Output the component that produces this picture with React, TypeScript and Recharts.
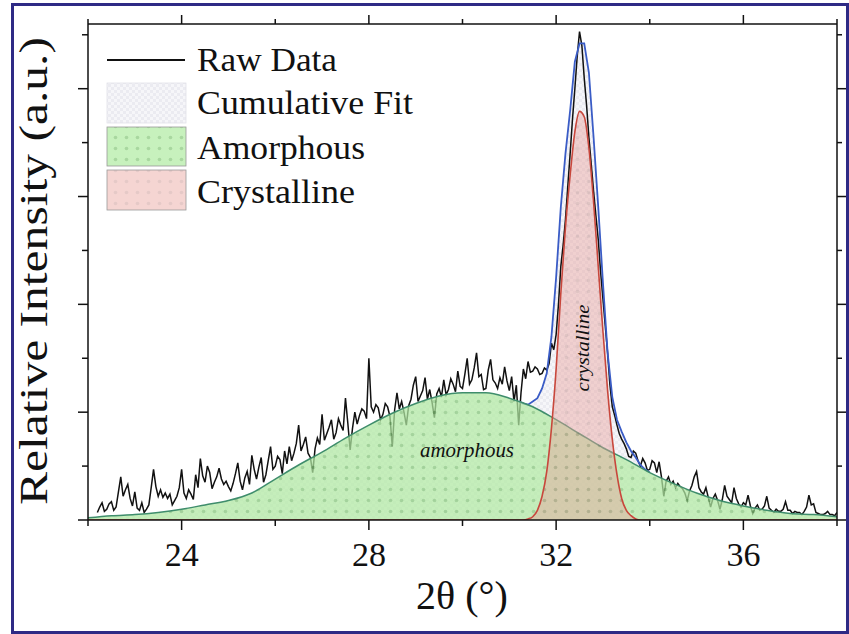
import { ComposedChart, Area, XAxis, YAxis } from "recharts"

const W = 849
const H = 634
const PLOT = { left: 88, top: 24, right: 837, bottom: 520 }
const SERIF = "'Liberation Serif', 'Times New Roman', serif"
const INK = "#111111"

// raw diffractogram, sampled every 0.05° from 22.2° to 38.0°
const RAW_START = 22.2
const RAW_STEP = 0.05
const RAW_VALUES = [
  // 22.2 – 22.95
  0.07, 0.12, 0.16, 0.08, 0.10, 0.15, 0.17, 0.09, 0.12, 0.26, 0.40, 0.22, 0.28, 0.33, 0.20, 0.13,
  // 23
  0.26, 0.11, 0.09, 0.16, 0.07, 0.10, 0.14, 0.30, 0.47, 0.31, 0.22, 0.28, 0.21, 0.25, 0.20, 0.24, 0.14, 0.18, 0.22, 0.30,
  // 24
  0.47, 0.25, 0.20, 0.28, 0.24, 0.19, 0.42, 0.30, 0.57, 0.41, 0.35, 0.50, 0.44, 0.29, 0.35, 0.40, 0.48, 0.38, 0.33, 0.36,
  // 25
  0.31, 0.27, 0.34, 0.43, 0.53, 0.36, 0.28, 0.39, 0.45, 0.33, 0.60, 0.47, 0.38, 0.49, 0.58, 0.35, 0.42, 0.55, 0.68, 0.47,
  // 26
  0.50, 0.59, 0.56, 0.43, 0.64, 0.52, 0.68, 0.55, 0.62, 0.71, 0.88, 0.64, 0.70, 0.77, 0.62, 0.58, 0.44, 0.66, 0.76, 0.70,
  // 27
  0.98, 0.74, 0.80, 0.86, 0.93, 0.75, 0.81, 0.94, 0.88, 0.83, 1.13, 0.90, 0.65, 0.85, 1.00, 0.89, 0.97, 1.03, 1.01, 0.94,
  // 28
  1.50, 1.05, 1.00, 1.07, 1.04, 0.93, 0.98, 1.08, 1.05, 0.96, 0.68, 1.02, 1.18, 1.03, 1.10, 1.00, 0.88, 1.06, 1.12, 1.25,
  // 29
  1.33, 1.10, 1.15, 1.20, 1.32, 1.12, 1.21, 1.09, 0.95, 1.17, 1.22, 1.14, 1.30, 1.16, 1.21, 1.31, 1.26, 1.19, 1.38, 1.24,
  // 30
  1.22, 1.35, 1.50, 1.26, 1.30, 1.41, 1.55, 1.33, 1.35, 1.21, 1.22, 1.39, 1.49, 1.30, 1.27, 1.22, 1.32, 1.26, 1.42, 1.29,
  // 31
  1.20, 1.33, 1.10, 1.25, 0.88, 1.18, 1.40, 1.31, 1.47, 1.37, 1.38, 1.42, 1.40, 1.35, 1.36, 1.41, 1.39, 1.45, 1.64, 1.58,
  // 32
  1.72, 2.00, 2.35, 2.55, 2.79, 3.10, 3.40, 3.72, 4.00, 4.30, 4.53, 4.40, 4.10, 3.85, 3.55, 3.30, 3.05, 2.82, 2.60, 2.30,
  // 33
  2.05, 1.80, 1.55, 1.25, 1.05, 0.97, 0.88, 0.80, 0.75, 0.71, 0.66, 0.59, 0.58, 0.64, 0.62, 0.55, 0.50, 0.57, 0.53, 0.46,
  // 34
  0.47, 0.55, 0.53, 0.44, 0.54, 0.40, 0.22, 0.36, 0.40, 0.33, 0.36, 0.30, 0.34, 0.31, 0.29, 0.25, 0.18, 0.27, 0.32, 0.40,
  // 35
  0.45, 0.30, 0.26, 0.24, 0.30, 0.21, 0.12, 0.20, 0.24, 0.18, 0.10, 0.19, 0.32, 0.22, 0.19, 0.16, 0.30, 0.20, 0.15, 0.12,
  // 36
  0.16, 0.14, 0.23, 0.13, 0.06, 0.11, 0.14, 0.09, 0.10, 0.13, 0.22, 0.11, 0.09, 0.07, 0.10, 0.08, 0.08, 0.10, 0.17, 0.09,
  // 37
  0.09, 0.06, 0.08, 0.07, 0.07, 0.05, 0.08, 0.12, 0.23, 0.14, 0.15, 0.07, 0.06, 0.05, 0.05, 0.06, 0.08, 0.05, 0.05, 0.04,
  // 38
  0.07,
]

const AMORPH_THETA = [
  22, 22.5, 23, 23.5, 24, 24.5, 25, 25.5, 26, 26.5, 27, 27.5, 28, 28.5, 29, 29.5,
  30, 30.5, 31, 31.5, 32, 32.5, 33, 33.5, 34, 34.5, 35, 35.5, 36, 36.5, 37, 37.5, 38,
]
const AMORPH_VALUES = [
  0.02, 0.04, 0.05, 0.07, 0.10, 0.14, 0.18, 0.25, 0.38, 0.51, 0.63, 0.76, 0.88, 0.99, 1.08, 1.15,
  1.18, 1.18, 1.13, 1.05, 0.93, 0.80, 0.67, 0.56, 0.44, 0.34, 0.25, 0.18, 0.13, 0.09, 0.06, 0.05, 0.03,
]

const CRYST_THETA = [
  22, 31.3, 31.4, 31.5, 31.6, 31.7, 31.8, 31.9, 32.0, 32.1, 32.2, 32.3, 32.4, 32.5, 32.6,
  32.7, 32.8, 32.9, 33.0, 33.1, 33.2, 33.3, 33.4, 33.5, 33.6, 33.7, 33.8, 38,
]
const CRYST_VALUES = [
  0, 0.00, 0.01, 0.03, 0.09, 0.22, 0.45, 0.85, 1.40, 2.10, 2.72, 3.20, 3.60, 3.79, 3.74,
  3.45, 2.95, 2.35, 1.75, 1.20, 0.75, 0.42, 0.20, 0.09, 0.04, 0.01, 0.00, 0,
]

const CUM_THETA = [
  22, 22.5, 23, 23.5, 24, 24.5, 25, 25.5, 26, 26.5, 27, 27.5, 28, 28.5, 29, 29.5, 30, 30.5, 31,
  31.1, 31.2, 31.3, 31.4, 31.5, 31.6, 31.7, 31.8, 31.9, 32.0, 32.1, 32.2, 32.3, 32.4, 32.5,
  32.6, 32.7, 32.8, 32.9, 33.0, 33.1, 33.2, 33.3, 33.4, 33.5, 33.6, 33.7, 33.8, 33.9, 34.0,
  34.5, 35, 35.5, 36, 36.5, 37, 37.5, 38,
]
const CUM_VALUES = [
  0.02, 0.04, 0.05, 0.07, 0.10, 0.14, 0.18, 0.25, 0.38, 0.51, 0.63, 0.76, 0.88, 0.99, 1.08, 1.15, 1.18, 1.18, 1.13,
  1.11, 1.10, 1.08, 1.07, 1.10, 1.13, 1.22, 1.36, 1.70, 2.25, 2.90, 3.40, 3.80, 4.25, 4.42,
  4.42, 4.15, 3.55, 2.90, 2.20, 1.55, 1.14, 0.93, 0.82, 0.72, 0.64, 0.58, 0.51, 0.47, 0.44,
  0.34, 0.25, 0.18, 0.13, 0.09, 0.06, 0.05, 0.03,
]
// the blue fit line only parts from the amorphous curve around the peak
const CUM_LINE_RANGE = [31.2, 34.0]

const X_TICKS = [22, 24, 26, 28, 30, 32, 34, 36, 38]
const X_LABELS = [24, 28, 32, 36]
const Y_TICKS = [0, 0.5, 1, 1.5, 2, 2.5, 3, 3.5, 4, 4.5]
const Y_MAJOR = [0, 1, 2, 3, 4]

const rawData = RAW_VALUES.map((y, i) => ({ x: +(RAW_START + i * RAW_STEP).toFixed(2), y }))
const amorphData = AMORPH_THETA.map((x, i) => ({ x, y: AMORPH_VALUES[i] }))
const crystData = CRYST_THETA.map((x, i) => ({ x, y: CRYST_VALUES[i] }))
const cumData = CUM_THETA.map((x, i) => ({ x, y: CUM_VALUES[i] }))
const cumLineData = cumData.filter((d) => d.x >= CUM_LINE_RANGE[0] && d.x <= CUM_LINE_RANGE[1])

function BottomTick({ x, payload }: any) {
  const major = X_LABELS.includes(payload.value)
  return (
    <g>
      <line x1={x} x2={x} y1={PLOT.bottom} y2={PLOT.bottom + (major ? 10 : 6)} stroke={INK} strokeWidth={1.5} />
      {major && (
        <text x={x} y={566} textAnchor="middle" fontFamily={SERIF} fontSize={34} fill={INK}>
          {payload.value}
        </text>
      )}
    </g>
  )
}

function TopTick({ x, payload }: any) {
  const major = X_LABELS.includes(payload.value)
  return <line x1={x} x2={x} y1={PLOT.top} y2={PLOT.top - (major ? 9 : 5)} stroke={INK} strokeWidth={1.5} />
}

function LeftTick({ y, payload }: any) {
  const major = Y_MAJOR.includes(payload.value)
  return <line x1={PLOT.left} x2={PLOT.left - (major ? 10 : 6)} y1={y} y2={y} stroke={INK} strokeWidth={1.5} />
}

function RightTick({ y, payload }: any) {
  const major = Y_MAJOR.includes(payload.value)
  return <line x1={PLOT.right} x2={PLOT.right + (major ? 10 : 5)} y1={y} y2={y} stroke={INK} strokeWidth={1.5} />
}

function PatternDefs() {
  return (
    <svg width={0} height={0} style={{ position: "absolute" }}>
      <defs>
        <pattern id="greenDots" width={11} height={11} patternUnits="userSpaceOnUse">
          <rect width={11} height={11} fill="#b2eba3" />
          <circle cx={5.5} cy={5.5} r={1.8} fill="#86c77a" />
        </pattern>
        <pattern id="pinkDots" width={11} height={11} patternUnits="userSpaceOnUse">
          <rect width={11} height={11} fill="#e8a19c" />
          <circle cx={5.5} cy={5.5} r={1.8} fill="#c68882" />
        </pattern>
        <pattern id="checks" width={6} height={6} patternUnits="userSpaceOnUse">
          <rect width={6} height={6} fill="#f6f6f9" />
          <rect width={3} height={3} fill="#ebebf1" />
          <rect x={3} y={3} width={3} height={3} fill="#ebebf1" />
        </pattern>
      </defs>
    </svg>
  )
}

function Overlay() {
  const legendText = { fontFamily: SERIF, fontSize: 34, fill: INK, lengthAdjust: "spacingAndGlyphs" as const }
  return (
    <svg width={W} height={H} style={{ position: "absolute", left: 0, top: 0, pointerEvents: "none" }}>
      {/* legend */}
      <line x1={107} x2={185} y1={60} y2={60} stroke={INK} strokeWidth={2} />
      <text x={197} y={71} textLength={140} {...legendText}>Raw Data</text>
      <rect x={107} y={83} width={79} height={40} fill="url(#checks)" stroke="#e2e2e8" strokeWidth={0.8} />
      <text x={197} y={114} textLength={216} {...legendText}>Cumulative Fit</text>
      <rect x={107} y={127} width={79} height={39} fill="url(#greenDots)" fillOpacity={0.72} stroke="#9a9a9a" strokeWidth={0.8} />
      <text x={197} y={159} textLength={168} {...legendText}>Amorphous</text>
      <rect x={107} y={170} width={79} height={40} fill="url(#pinkDots)" fillOpacity={0.45} stroke="#9a9a9a" strokeWidth={0.8} />
      <text x={197} y={203} textLength={158} {...legendText}>Crystalline</text>

      {/* in-plot annotations */}
      <text x={467} y={457} textAnchor="middle" fontFamily={SERIF} fontStyle="italic" fontSize={20} fill={INK}
        textLength={94} lengthAdjust="spacingAndGlyphs">amorphous</text>
      <text x={589} y={348} textAnchor="middle" fontFamily={SERIF} fontStyle="italic" fontSize={18} fill={INK}
        textLength={87} lengthAdjust="spacingAndGlyphs" transform="rotate(-90 589 348)">crystalline</text>

      {/* axis titles */}
      <text x={462} y={609} textAnchor="middle" fontFamily={SERIF} fontSize={40} fill={INK}>2θ (°)</text>
      <text x={47} y={271} textAnchor="middle" fontFamily={SERIF} fontSize={40} fill={INK}
        textLength={468} lengthAdjust="spacingAndGlyphs" transform="rotate(-90 47 271)">Relative Intensity (a.u.)</text>
    </svg>
  )
}

export default function App() {
  // every series is an Area so that they all share one layer and keep this drawing order
  return (
    <div style={{ position: "absolute", left: 0, top: 0, width: W, height: H, background: "#fff", overflow: "hidden" }}>
      <PatternDefs />
      <ComposedChart width={W} height={H} margin={{ top: 4, right: 0, bottom: 54, left: 28 }}>
        <XAxis xAxisId="b" orientation="bottom" type="number" dataKey="x" domain={[22, 38]} allowDataOverflow
          ticks={X_TICKS} interval={0} height={60} tickLine={false}
          axisLine={{ stroke: INK, strokeWidth: 1.5 }} tick={(p: any) => <BottomTick {...p} />} />
        <XAxis xAxisId="t" orientation="top" type="number" dataKey="x" domain={[22, 38]} allowDataOverflow
          ticks={X_TICKS} interval={0} height={20} tickLine={false}
          axisLine={{ stroke: INK, strokeWidth: 1.5 }} tick={(p: any) => <TopTick {...p} />} />
        <YAxis yAxisId="l" orientation="left" type="number" domain={[0, 4.6]} allowDataOverflow
          ticks={Y_TICKS} interval={0} width={60} tickLine={false}
          axisLine={{ stroke: INK, strokeWidth: 1.5 }} tick={(p: any) => <LeftTick {...p} />} />
        <YAxis yAxisId="r" orientation="right" type="number" domain={[0, 4.6]} allowDataOverflow
          ticks={Y_TICKS} interval={0} width={12} tickLine={false}
          axisLine={{ stroke: INK, strokeWidth: 1.5 }} tick={(p: any) => <RightTick {...p} />} />

        <Area xAxisId="b" yAxisId="l" data={cumData} dataKey="y" type="linear"
          fill="url(#checks)" fillOpacity={1} stroke="none" isAnimationActive={false} />
        <Area xAxisId="t" yAxisId="r" data={rawData} dataKey="y" type="linear"
          fill="none" stroke={INK} strokeWidth={1.5} isAnimationActive={false} />
        <Area xAxisId="b" yAxisId="l" data={cumLineData} dataKey="y" type="linear"
          fill="none" stroke="#3a5cc6" strokeWidth={1.8} isAnimationActive={false} />
        <Area xAxisId="b" yAxisId="l" data={amorphData} dataKey="y" type="monotone"
          fill="url(#greenDots)" fillOpacity={0.72} stroke="#3f8d6c" strokeWidth={1.5} isAnimationActive={false} />
        <Area xAxisId="b" yAxisId="l" data={crystData} dataKey="y" type="monotone"
          fill="url(#pinkDots)" fillOpacity={0.45} stroke="#c8473c" strokeWidth={1.6} isAnimationActive={false} />
      </ComposedChart>
      <Overlay />
      <div style={{ position: "absolute", left: 11, top: 3, width: 838, height: 631,
        border: "3px solid #2e2a85", boxSizing: "border-box", pointerEvents: "none" }} />
    </div>
  )
}
